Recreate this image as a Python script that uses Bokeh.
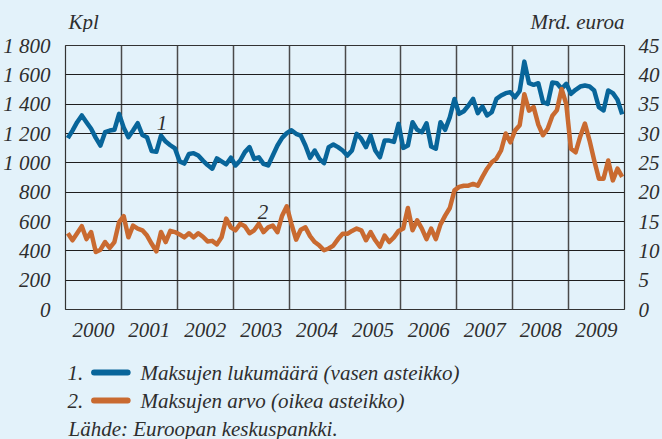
from bokeh.plotting import figure
from bokeh.models import Range1d, LinearAxis, FixedTicker, Label
from bokeh.layouts import column
from bokeh.core.properties import value
from bokeh.embed import file_html
from bokeh.resources import INLINE

# ---------------- data (monthly, Jan 2000 - Dec 2009) ----------------
years = ["2000", "2001", "2002", "2003", "2004", "2005", "2006", "2007", "2008", "2009"]

# 1. Maksujen lukumäärä (kpl, left axis)
count_values = [
    1168, 1220, 1277, 1323, 1277, 1232, 1170, 1118, 1209, 1220, 1225, 1334,
    1240, 1175, 1220, 1270, 1190, 1175, 1080, 1075, 1185, 1145, 1120, 1098,
    1010, 995, 1060, 1066, 1050, 1015, 985, 960, 1030, 1010, 990, 1035,
    982, 1016, 1073, 1107, 1027, 1038, 993, 982, 1050, 1118, 1170, 1202,
    1222, 1198, 1186, 1118, 1034, 1084, 1027, 998, 1107, 1125, 1107, 1084,
    1050, 1084, 1198, 1164, 1107, 1186, 1084, 1038, 1152, 1152, 1143, 1266,
    1102, 1118, 1277, 1225, 1209, 1270, 1111, 1096, 1277, 1225, 1311, 1435,
    1334, 1352, 1391, 1436, 1339, 1384, 1323, 1345, 1436, 1459, 1475, 1482,
    1447, 1490, 1690, 1543, 1532, 1543, 1414, 1402, 1548, 1543, 1505, 1539,
    1470, 1498, 1520, 1527, 1520, 1493, 1379, 1357, 1493, 1475, 1430, 1330,
]

# 2. Maksujen arvo (mrd. euroa, right axis)
value_values = [
    13.0, 11.8, 13.0, 14.2, 12.0, 13.2, 9.8, 10.2, 11.5, 10.5, 11.5, 14.9,
    15.9, 12.3, 14.3, 13.8, 13.5, 12.6, 11.2, 9.9, 13.2, 11.5, 13.4, 13.2,
    12.8, 12.3, 13.0, 12.3, 13.0, 12.4, 11.6, 11.7, 11.1, 12.3, 15.5, 14.0,
    13.5, 14.6, 14.2, 13.0, 13.5, 14.6, 13.2, 14.0, 14.3, 13.2, 16.0, 17.6,
    14.6, 11.9, 13.6, 14.0, 12.5, 11.5, 10.9, 10.1, 10.4, 10.9, 12.0, 12.9,
    12.9, 13.4, 13.8, 13.5, 11.8, 13.2, 11.8, 10.7, 12.6, 11.5, 12.3, 13.4,
    13.8, 17.3, 13.5, 15.2, 13.8, 12.0, 13.8, 12.0, 14.5, 16.0, 17.3, 20.3,
    20.9, 21.1, 21.1, 21.4, 21.1, 22.6, 24.0, 25.1, 25.7, 27.1, 30.0, 28.5,
    30.5, 31.4, 36.7, 33.9, 34.5, 31.5, 29.7, 30.8, 33.0, 34.0, 37.6, 35.0,
    27.4, 26.8, 29.5, 31.7, 28.8, 25.4, 22.3, 22.3, 25.4, 22.0, 24.0, 22.6,
]

left_ticks = [0, 200, 400, 600, 800, 1000, 1200, 1400, 1600, 1800]
left_tick_labels = ["0", "200", "400", "600", "800", "1 000", "1 200", "1 400", "1 600", "1 800"]
right_ticks = [0, 5, 10, 15, 20, 25, 30, 35, 40, 45]

left_unit = "Kpl"
right_unit = "Mrd. euroa"
legend_numbers = ["1.", "2."]
legend_labels = ["Maksujen lukumäärä (vasen asteikko)", "Maksujen arvo (oikea asteikko)"]
source_text = "Lähde: Euroopan keskuspankki."

# ---------------- style ----------------
BG = "#E3F2FA"
BLUE = "#08659A"
ORANGE = "#C96A30"
TXT = "#2E2E2E"
FONT = "Liberation Serif"
FS = "21px"
W = 662
LEFT, RIGHT = 65, 30          # frame borders (px), shared by all rows
TOP_H, MAIN_H, BOT_H = 32, 321, 86


def strip(height):
    # a text strip whose data units are page pixels (frame is aligned with the chart frame)
    f = figure(width=W, height=height, output_backend="svg", toolbar_location=None,
               x_range=Range1d(LEFT, W - RIGHT), y_range=Range1d(height, 0),
               x_axis_type=None, y_axis_type=None,
               min_border_left=LEFT, min_border_right=RIGHT, min_border_top=0, min_border_bottom=0,
               background_fill_color=BG, border_fill_color=BG, outline_line_color=None)
    f.grid.visible = False
    return f


tkw = dict(text_font=value(FONT), text_font_style="italic", text_font_size=FS,
           text_color=TXT, text_baseline="middle")

# ---------------- top strip: unit labels ----------------
top = strip(TOP_H)
top.text(x=[68], y=[21], text=[left_unit], text_align="left", **tkw)
top.text(x=[W - RIGHT], y=[21], text=[right_unit], text_align="right", **tkw)

# ---------------- main chart ----------------
n = len(count_values)
xs = [i + 0.5 for i in range(n)]

p = figure(width=W, height=MAIN_H, output_backend="svg", toolbar_location=None,
           x_range=Range1d(0, n), y_range=Range1d(0, 1800),
           min_border_left=LEFT, min_border_right=RIGHT, min_border_top=13, min_border_bottom=44,
           background_fill_color=BG, border_fill_color=BG,
           outline_line_color="#333333", outline_line_width=1.2)
p.extra_y_ranges = {"right": Range1d(0, 45)}

year_centres = [12 * k + 6 for k in range(len(years))]
p.xaxis.ticker = FixedTicker(ticks=year_centres)
p.xaxis.major_label_overrides = {c: y for c, y in zip(year_centres, years)}
p.xgrid.ticker = FixedTicker(ticks=[12 * k for k in range(1, len(years))])
p.xgrid.grid_line_color = "#4a4a4a"
p.xgrid.grid_line_width = 1.5

p.yaxis.ticker = FixedTicker(ticks=left_ticks)
p.yaxis.major_label_overrides = {t: l for t, l in zip(left_ticks, left_tick_labels)}
p.ygrid.ticker = FixedTicker(ticks=left_ticks[1:-1])
p.ygrid.grid_line_color = "#1e1e1e"
p.ygrid.grid_line_width = 1

p.line(xs, count_values, line_color=BLUE, line_width=4.5, line_join="round")
p.line(xs, value_values, y_range_name="right", line_color=ORANGE, line_width=4.5, line_join="round")

raxis = LinearAxis(y_range_name="right", ticker=FixedTicker(ticks=right_ticks))
p.add_layout(raxis, "right")

for ax in [p.xaxis[0], p.yaxis[0], raxis]:
    ax.axis_line_color = None
    ax.major_tick_line_color = None
    ax.minor_tick_line_color = None
    ax.major_label_text_font = FONT
    ax.major_label_text_font_style = "italic"
    ax.major_label_text_font_size = FS
    ax.major_label_text_color = TXT
p.xaxis.major_label_standoff = 7
p.yaxis.major_label_standoff = 9
raxis.major_label_standoff = 8

lab_kw = dict(text_font=FONT, text_font_style="italic", text_font_size=FS, text_color=TXT,
              text_baseline="middle")
p.add_layout(Label(x=20.7, y=1275, text="1", text_align="center", **lab_kw))
p.add_layout(Label(x=42.4, y=668, text="2", text_align="center", **lab_kw))

# ---------------- legend / source strip ----------------
q = strip(BOT_H)
rows = [19, 47]
q.text(x=[67, 67], y=rows, text=legend_numbers, **tkw)
q.segment(x0=[94], y0=[rows[0]], x1=[128], y1=[rows[0]], line_color=BLUE, line_width=6, line_cap="round")
q.segment(x0=[94], y0=[rows[1]], x1=[128], y1=[rows[1]], line_color=ORANGE, line_width=6, line_cap="round")
q.text(x=[141, 141], y=rows, text=legend_labels, **tkw)
q.text(x=[68], y=[75], text=[source_text], **tkw)

layout = column(top, p, q, spacing=0)
html = file_html(layout, INLINE)
html = html.replace("</head>", "<style>html, body { background-color: %s; }</style></head>" % BG, 1)
open("out.html", "w").write(html)
